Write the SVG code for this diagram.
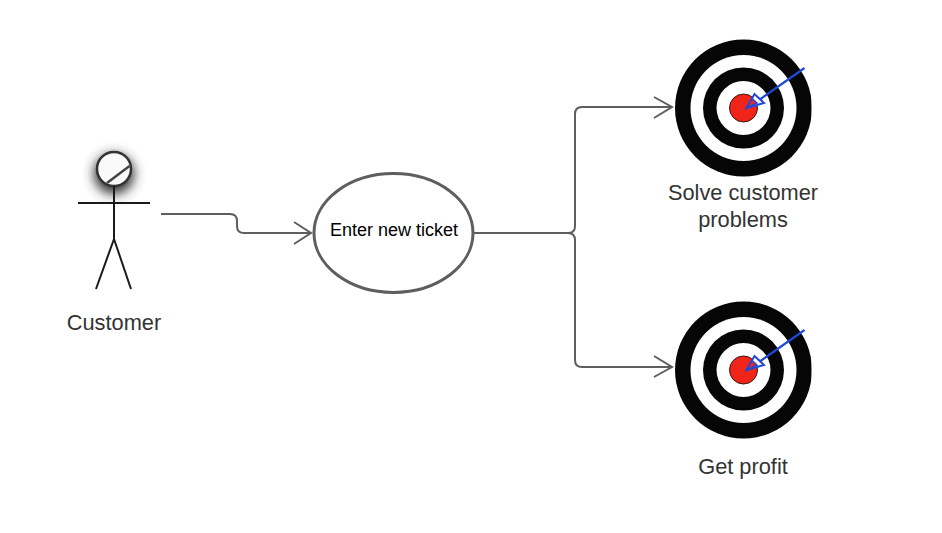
<svg xmlns="http://www.w3.org/2000/svg" width="942" height="533" viewBox="0 0 942 533">
<style>
text{font-family:"Liberation Sans",Arial,sans-serif;text-anchor:middle;fill:#333}
.lbl{font-size:21.800px}
.conn{fill:none;stroke:#5e5e5e;stroke-width:2}
.fig{fill:none;stroke:#1a1a1a;stroke-width:2}
</style>
<defs>
<filter id="blur" x="-80%" y="-80%" width="260%" height="260%"><feGaussianBlur stdDeviation="6"/></filter>
<clipPath id="clipT"><rect x="660" y="20" width="151.500" height="440"/></clipPath>
<g id="target-art">
<circle r="68.500" fill="#060606"/>
<circle r="53" fill="#fff"/>
<circle r="40.500" fill="#060606"/>
<circle r="27" fill="#fff"/>
<circle r="14" fill="#f02418" stroke="#3a1a10" stroke-width="1"/>
<path d="M61 -40L17 -9" fill="none" stroke="#1f49d8" stroke-width="2.200"/>
<path d="M3 0L11 -14L20.500 -5Z" fill="#fff" stroke="#1f49d8" stroke-width="2"/>
<path d="M3 0L8.500 -9.500L13.500 -5Z" fill="#f02418" stroke="#1f49d8" stroke-width="1.500"/>
</g>
</defs>
<rect width="942" height="533" fill="#fff"/>
<g id="connectors" class="conn">
<path class="conn" d="M161 214H230Q237 214 237 221V226Q237 233 244 233H311"/>
<path class="conn" d="M294 222L311 233L294 244"/>
<path class="conn" d="M474 233H568Q575 233 575 226V114Q575 107 582 107H672"/>
<path class="conn" d="M654 97L672 107L654 118"/>
<path class="conn" d="M568 233Q575 233 575 240V360Q575 367 582 367H672"/>
<path class="conn" d="M654 356L672 367L654 377"/>
</g>
<g id="customer">
<circle cx="114" cy="174" r="20" fill="#333" filter="url(#blur)"/>
<circle cx="114" cy="169" r="17" fill="#fafafa" stroke="#333" stroke-width="2.500"/>
<path d="M107 183L129.500 166" fill="none" stroke="#444" stroke-width="2.500"/>
<path class="fig" d="M114 186V239M78 203H150M114 239L96 289M114 239L131 289"/>
<text class="lbl" x="114" y="330">Customer</text>
</g>
<g id="enter-ticket">
<ellipse cx="393.500" cy="233" rx="79.500" ry="59.500" fill="#fff" stroke="#5e5e5e" stroke-width="3"/>
<text x="394" y="236" font-size="18" style="fill:#000">Enter new ticket</text>
</g>
<g id="solve-problems">
<g clip-path="url(#clipT)"><use href="#target-art" x="743.500" y="108"/></g>
<text class="lbl" x="743" y="200">Solve customer</text>
<text class="lbl" x="743" y="227">problems</text>
</g>
<g id="get-profit">
<g clip-path="url(#clipT)"><use href="#target-art" x="743.500" y="370"/></g>
<text class="lbl" x="743" y="474">Get profit</text>
</g>
</svg>
